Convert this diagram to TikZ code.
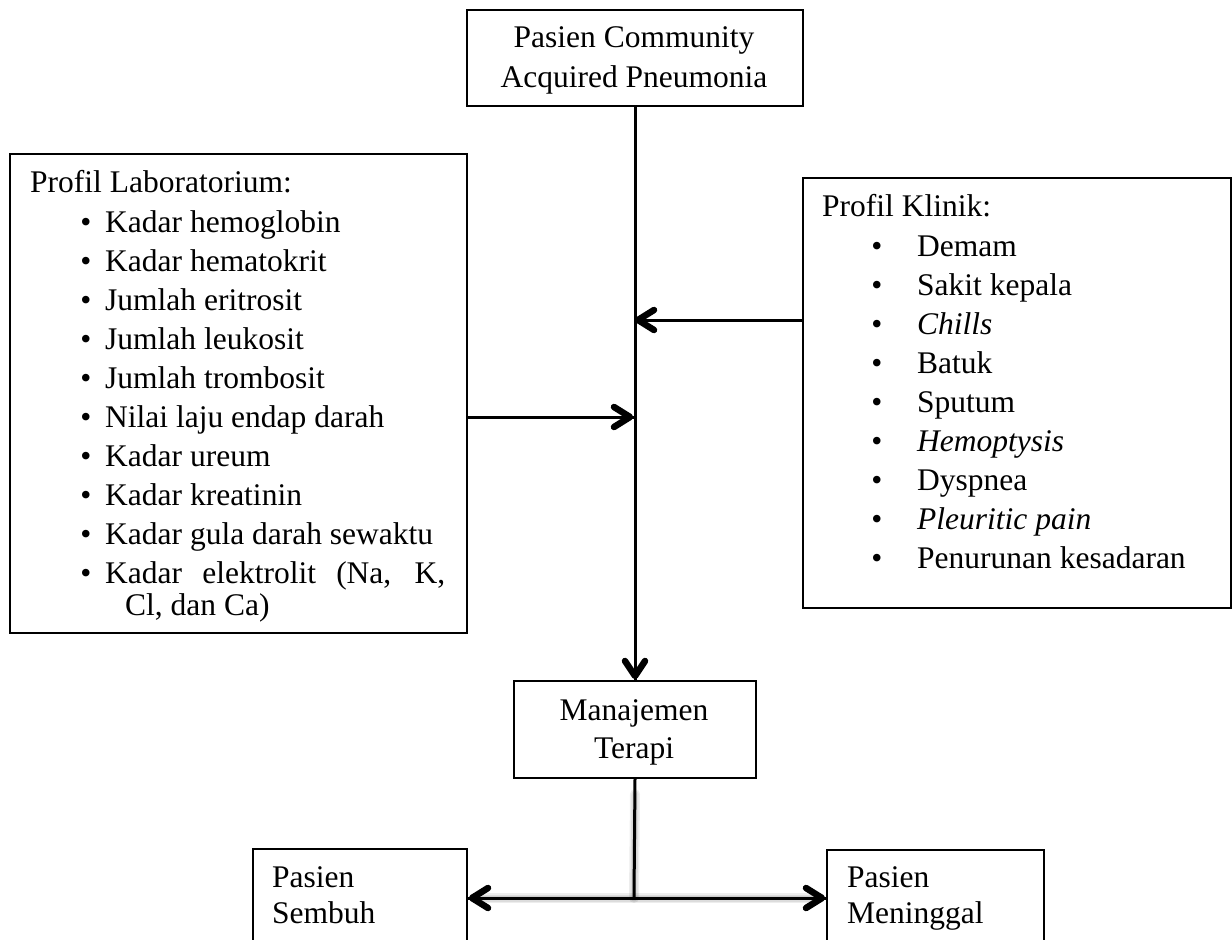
\documentclass[tikz,border=0pt]{standalone}
\usepackage{fontspec}
\setmainfont{Liberation Serif}[Ligatures=CommonOff]
\usetikzlibrary{arrows.meta}
\begin{document}
\begin{tikzpicture}[x=1pt,y=-1pt,
  box/.style={draw, line width=2pt, rectangle, inner sep=0pt, anchor=north west},
  txt/.style={anchor=base west, inner sep=0pt, font=\fontsize{31.5}{38}\selectfont},
  ctxt/.style={anchor=base, inner sep=0pt, font=\fontsize{31.5}{38}\selectfont},
  bul/.style={anchor=base, inner sep=0pt, font=\fontsize{31.5}{38}\selectfont},
  conn/.style={line width=3pt},
  chev/.style={line width=6.5pt, line cap=round, line join=round},
  shadowline/.style={line width=#1, draw=black, opacity=0.07, line cap=round},
]
\useasboundingbox (0,0) rectangle (1232,940);
\clip (0,0) rectangle (1232,940);

% boxes
\node[box, minimum width=336pt, minimum height=96pt] (top) at (466,9) {};
\node[box, minimum width=457pt, minimum height=479pt] (lab) at (9,153) {};
\node[box, minimum width=428pt, minimum height=430pt] (klinik) at (802,177) {};
\node[box, minimum width=242pt, minimum height=97pt] (manag) at (513,680) {};
\node[box, minimum width=214pt, minimum height=150pt] (sembuh) at (252,848) {};
\node[box, minimum width=217pt, minimum height=150pt] (mening) at (826,849) {};

% texts: top
\node[ctxt] (t1) at (634,47) {Pasien Community};
\node[ctxt] (t2) at (634,87) {Acquired Pneumonia};

% lab
\node[txt] (lh) at (30,192) {Profil Laboratorium:};
\foreach \t [count=\k from 0] in {Kadar hemoglobin, Kadar hematokrit, Jumlah eritrosit, Jumlah leukosit, Jumlah trombosit, Nilai laju endap darah, Kadar ureum, Kadar kreatinin, Kadar gula darah sewaktu}{
  \node[bul] (lb\k) at (86,232+39*\k) {•};
  \node[txt] (lt\k) at (105,232+39*\k) {\t};
}
\node[bul] (lb9) at (86,583) {•};
\node[txt] (lt9) at (105,583) {\makebox[340pt][s]{Kadar elektrolit (Na, K,}};
\node[txt] (lt10) at (125,615) {Cl, dan Ca)};

% klinik
\node[txt] (kh) at (822,216) {Profil Klinik:};
\foreach \t [count=\k from 0] in {Demam, Sakit kepala, \textit{Chills}, Batuk, Sputum, \textit{Hemoptysis}, Dyspnea, \textit{Pleuritic pain}, Penurunan kesadaran}{
  \node[bul] (kb\k) at (877,256+39*\k) {•};
  \node[txt] (kt\k) at (917,256+39*\k) {\t};
}

% manajemen
\node[ctxt] (m1) at (634,720) {Manajemen};
\node[ctxt] (m2) at (634,758) {Terapi};

% outcomes
\node[txt] (s1) at (272,887) {Pasien};
\node[txt] (s2) at (272,923) {Sembuh};
\node[txt] (d1) at (847,887) {Pasien};
\node[txt] (d2) at (847,923) {Meninggal};

% junction coordinates
\coordinate (j1) at (634,320);
\coordinate (j2) at (634,417);
\coordinate (j3) at (634,898);

% shadows
\begin{scope}[shift={(6,5)}]
  \foreach \w in {10pt,7pt,4pt}{
    \draw[shadowline=\w] ([yshift=-15pt]manag.south) -- (j3);
    \draw[shadowline=\w] ([xshift=6pt]sembuh.east |- j3) -- ([xshift=-6pt]mening.west |- j3);
  }
\end{scope}

% connectors
\draw[conn] (top.south) -- (manag.north);
\draw[conn] (klinik.west |- j1) -- (j1);
\draw[conn] (lab.east |- j2) -- (j2);
\draw[conn] (manag.south) -- (j3);
\draw[conn] (sembuh.east |- j3) -- (mening.west |- j3);

% arrowheads (open chevrons)
\draw[chev] ([shift={(-10,-19)}]manag.north) -- ([shift={(0,-4)}]manag.north) -- ([shift={(10,-19)}]manag.north);
\draw[chev] ([shift={(20,-10)}]j1) -- ([shift={(4,0)}]j1) -- ([shift={(20,10)}]j1);
\draw[chev] ([shift={(-20,-10)}]j2) -- ([shift={(-4,0)}]j2) -- ([shift={(-20,10)}]j2);
\draw[chev] ([shift={(20,-10)}]sembuh.east |- j3) -- ([shift={(4,0)}]sembuh.east |- j3) -- ([shift={(20,10)}]sembuh.east |- j3);
\draw[chev] ([shift={(-20,-10)}]mening.west |- j3) -- ([shift={(-4,0)}]mening.west |- j3) -- ([shift={(-20,10)}]mening.west |- j3);
\end{tikzpicture}
\end{document}
